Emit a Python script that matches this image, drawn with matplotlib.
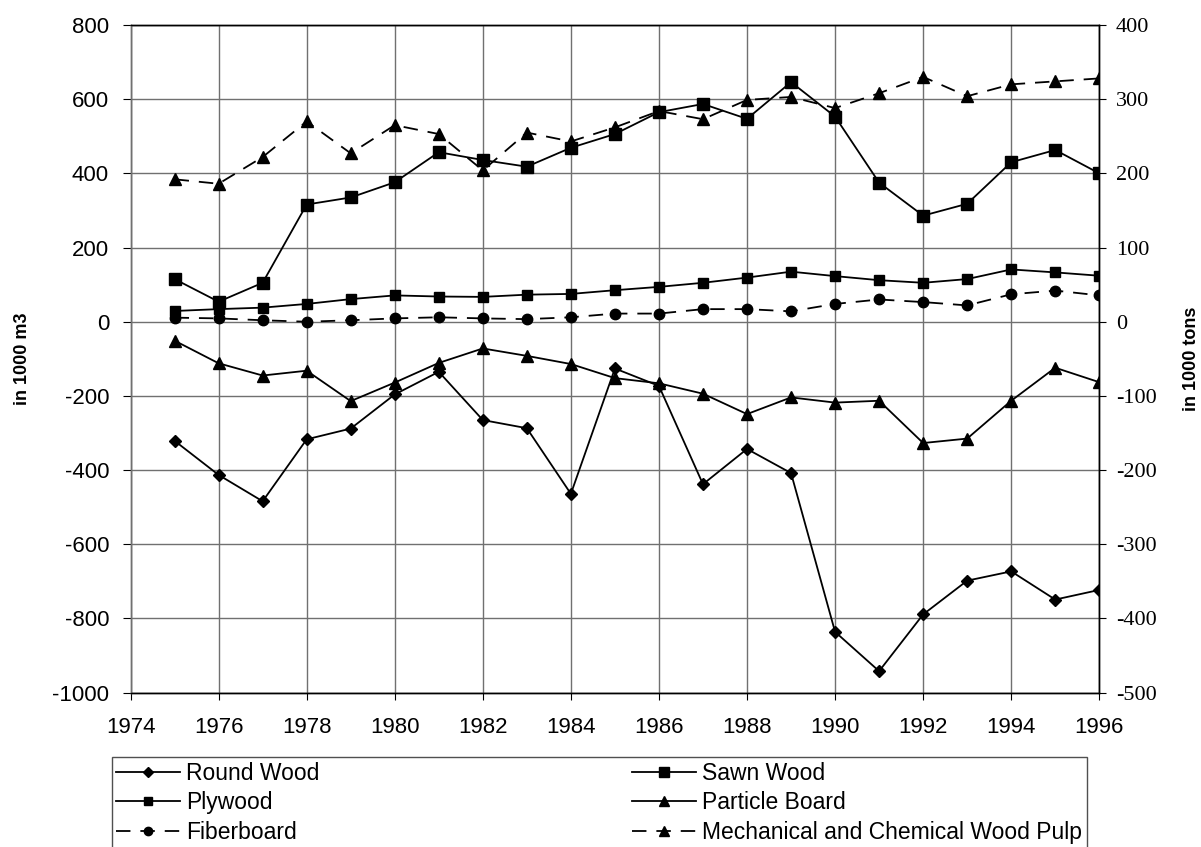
import matplotlib
matplotlib.use("Agg")
import matplotlib.pyplot as plt

plt.rcParams["axes.unicode_minus"] = False

years = list(range(1975, 1997))

# in 1000 m3 (left axis)
round_wood = [-321, -413, -484, -317, -288, -196, -135, -265, -287, -464,
              -126, -173, -438, -343, -408, -836, -942, -789, -698, -673, -749, -723]
sawn_wood = [115, 54, 105, 316, 335, 376, 457, 436, 418, 469,
             506, 565, 587, 547, 646, 553, 375, 286, 318, 430, 463, 400]
plywood = [29, 34, 38, 48, 61, 71, 68, 67, 73, 75,
           85, 94, 105, 119, 135, 123, 112, 105, 115, 141, 133, 124]
particle_board = [-51, -112, -145, -132, -214, -164, -111, -72, -92, -114,
                  -152, -166, -194, -249, -204, -218, -213, -327, -315, -213, -124, -163]
fiberboard = [11, 9, 4, 0, 4, 9, 12, 9, 7, 12,
              22, 22, 34, 34, 28, 48, 60, 53, 44, 74, 84, 71]

# in 1000 tons (right axis)
wood_pulp = [192, 186, 222, 270, 227, 265, 253, 204, 255, 243,
             262, 284, 273, 299, 303, 288, 308, 330, 304, 320, 324, 328]

left_ticks = list(range(-1000, 801, 200))
right_ticks = list(range(-500, 401, 100))
x_ticks = list(range(1974, 1997, 2))

sans = "Liberation Sans"
serif = "Liberation Serif"

fig = plt.figure(figsize=(12.01, 8.47), dpi=100)
ax = fig.add_axes([0.1087, 0.1822, 0.8066, 0.7883])
ax2 = ax.twinx()

dash = (0, (8, 5.5))
lw = 1.3
h1, = ax.plot(years, round_wood, color="black", lw=lw, marker="D", ms=6.5, label="Round Wood")
h2, = ax.plot(years, sawn_wood, color="black", lw=lw, marker="s", ms=8.5, label="Sawn Wood")
h3, = ax.plot(years, plywood, color="black", lw=lw, marker="s", ms=7.5, label="Plywood")
h4, = ax.plot(years, particle_board, color="black", lw=lw, marker="^", ms=9, label="Particle Board")
h5, = ax.plot(years, fiberboard, color="black", lw=lw, ls=dash, marker="o", ms=7.5, label="Fiberboard")
h6, = ax2.plot(years, wood_pulp, color="black", lw=lw, ls=dash, marker="^", ms=9,
               label="Mechanical and Chemical Wood Pulp")

ax.set_xlim(1974, 1996)
ax.set_ylim(-1000, 800)
ax2.set_ylim(-500, 400)
ax.set_xticks(x_ticks)
ax.set_yticks(left_ticks)
ax2.set_yticks(right_ticks)

ax.grid(True, color="#707070", lw=1.0)
ax.set_axisbelow(True)

for s in list(ax.spines.values()) + list(ax2.spines.values()):
    s.set_color("black")
    s.set_linewidth(1.0)
ax.spines["left"].set_color("#707070")
ax2.spines["left"].set_color("#707070")

ax.tick_params(axis="x", direction="out", length=5, labelsize=16, pad=12.5)
ax.tick_params(axis="y", direction="out", length=5.5, labelsize=16, pad=10)
ax2.tick_params(axis="y", direction="out", length=5, labelsize=16, pad=7)
for t in ax.get_xticklabels() + ax.get_yticklabels():
    t.set_fontfamily(sans)
for t in ax2.get_yticklabels():
    t.set_fontfamily(serif)

ymid = 0.1822 + 0.7883 / 2
fig.text(23 / 1201, ymid, "in 1000 m3", rotation=90, ha="center", va="center",
         fontsize=13, fontweight="bold", family=sans)
fig.text(1192 / 1201, ymid, "in 1000 tons", rotation=90, ha="center", va="center",
         fontsize=13, fontweight="bold", family=sans)

# row-wise order like the original: column 1 = RW, PW, FB ; column 2 = SW, PB, pulp
order = [h1, h3, h5, h2, h4, h6]
leg = fig.legend(order, [h.get_label() for h in order],
                 loc="upper left", bbox_to_anchor=(0.093, 0.0, 0.8118, 0.1059),
                 mode="expand", ncol=2, fancybox=False, edgecolor="black", framealpha=1,
                 prop={"family": sans, "size": 16.5}, handlelength=2.8, handletextpad=0.25,
                 labelspacing=0.28, borderpad=0.2, borderaxespad=0, markerscale=0.8)
leg.get_frame().set_linewidth(1.0)
leg.get_frame().set_edgecolor("#505050")

fig.savefig("out.png", dpi=100)
